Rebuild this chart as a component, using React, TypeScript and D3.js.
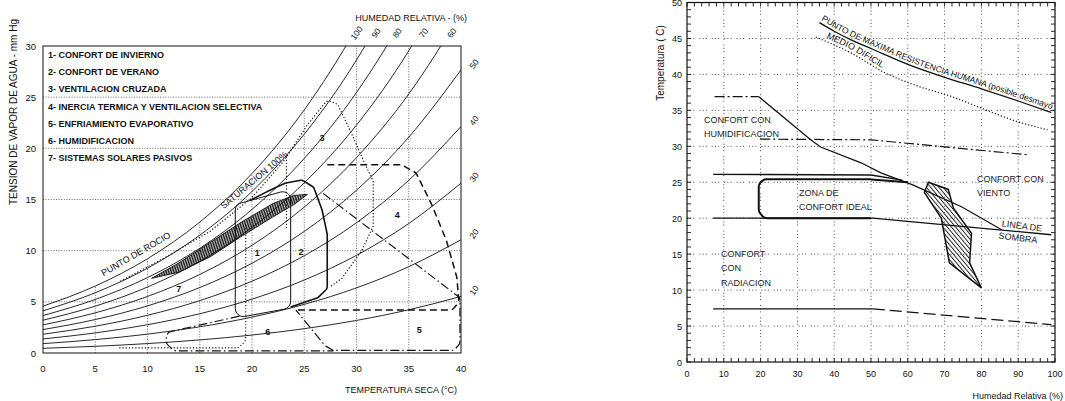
import React from "react";
import * as d3 from "d3";

// ---------- left chart: psychrometric (Givoni) ----------
const satTemps = [0, 5, 10, 15, 20, 25, 30, 35, 40];
const satPressure = [4.58, 6.54, 9.21, 12.79, 17.54, 23.76, 31.82, 42.18, 55.32];
const rhLevels = [100, 90, 80, 70, 60, 50, 40, 30, 20, 10];
const rhTopLabels = [100, 90, 80, 70, 60];
const rhSideLabels = [50, 40, 30, 20, 10];
const tempTicks = [0, 5, 10, 15, 20, 25, 30, 35, 40];
const vaporTicks = [0, 5, 10, 15, 20, 25, 30];
const legendItems = [
  "1- CONFORT DE INVIERNO",
  "2- CONFORT DE VERANO",
  "3- VENTILACION CRUZADA",
  "4- INERCIA TERMICA Y VENTILACION SELECTIVA",
  "5- ENFRIAMIENTO EVAPORATIVO",
  "6- HUMIDIFICACION",
  "7- SISTEMAS SOLARES PASIVOS",
];

// zone outlines, [temp C, vapour mmHg]
const zoneWinter = [[18.4, 14.5], [23.7, 16.0], [23.7, 4.4], [18.4, 3.4]];
const zoneSummer = [[19.8, 14.9], [21.5, 15.8], [23.2, 16.6], [24.8, 16.9], [25.9, 16.2], [26.7, 14.0], [27.2, 11.6], [27.2, 6.3], [26.3, 5.4], [23.7, 4.5]];
const zoneCrossVent = [[7.4, 7.0], [12, 9.5], [16, 11.9], [20, 15.2], [23, 18.7], [25.3, 22.3], [27.2, 24.7], [28.2, 24.3], [29.5, 21.5], [30.8, 18.5], [31.6, 16.8], [31.6, 12.4], [30.5, 10], [28.6, 7.3], [27.4, 6.4]];
const crossVentInner = [[23.3, 19.2], [23.3, 12.2]];
const zoneInertia = [[27.2, 18.4], [34.3, 18.4], [35.7, 17.6], [37.2, 14.5], [38.6, 11.0], [39.6, 7.4], [39.8, 5.0], [39.2, 4.2], [24.2, 4.2]];
const zoneEvap = [[26.8, 15.6], [39.9, 5.4], [39.9, 0.9], [39.3, 0.25], [27.8, 0.25], [27.0, 0.7], [24.2, 4.2]];
const zoneHumid = [[18.8, 3.6], [11.8, 2.0], [11.8, 0.9], [12.6, 0.2], [27.8, 0.2]];
const zoneSolar = [[7.3, 0.5], [18.7, 0.5], [19.4, 1.2], [19.4, 12.6]];
const hatchBand = [[10.4, 7.3], [13, 8.8], [16, 10.8], [19, 12.8], [22, 14.6], [24, 15.4], [25.3, 15.5], [24, 14.5], [22, 13.3], [19, 11.4], [16, 9.4], [13, 7.9]];
const zoneLabels: [string, number, number][] = [["1", 20.5, 9.8], ["2", 24.7, 9.9], ["3", 26.7, 21], ["4", 33.9, 13.5], ["5", 36, 2.2], ["6", 21.5, 2.1], ["7", 13, 6.3]];

// ---------- right chart: bioclimatic (Olgyay) ----------
const rhTicksR = [0, 10, 20, 30, 40, 50, 60, 70, 80, 90, 100];
const tempTicksR = [0, 5, 10, 15, 20, 25, 30, 35, 40, 45, 50];
const maxResistRH = [36, 40, 45, 50, 60, 70, 80, 90, 99];
const maxResistT = [47.2, 46.0, 44.7, 43.6, 41.4, 39.6, 38.0, 36.3, 34.7];
const difficultRH = [35, 44.5, 53.5, 62, 72, 81, 90, 98];
const difficultT = [45.2, 43.0, 40.3, 38.5, 36.9, 35.1, 33.4, 32.3];
const humidTopRH = [7.5, 19.5];
const humidTopT = [36.9, 36.9];
const windRH = [19.5, 33.6, 36.3, 47.3, 52.7, 61.5, 74.6, 85.5];
const windT = [36.9, 30.9, 29.9, 27.7, 26.3, 24.6, 21.6, 18.4];
const line31RH = [19.9, 50, 93];
const line31T = [31, 30.9, 28.8];
const upperRH = [7.1, 50, 58.5];
const upperT = [26.1, 26.0, 25.3];
const idealRH = [60, 50, 21, 19.5, 19.5, 21, 50];
const idealT = [25.0, 25.4, 25.4, 24.8, 20.9, 20.0, 20.0];
const shadeRH = [7.1, 50.5, 99];
const shadeT = [20.0, 20.0, 17.7];
const lowSolidRH = [7.1, 50.5];
const lowSolidT = [7.4, 7.4];
const lowDashRH = [50.5, 99];
const lowDashT = [7.4, 5.2];
const hatchRH = [65.6, 71.0, 72.4, 77.3, 76.8, 80.0, 71.3, 69.1, 64.5];
const hatchT = [25.0, 24.0, 21.4, 17.9, 13.8, 10.3, 13.8, 20.0, 23.6];

const FONT = "'Liberation Sans', Arial, Helvetica, sans-serif";
const INK = "#111";

function roundedPath(pts: number[][], r: number, closed: boolean): string {
  const path = d3.path();
  const n = pts.length;
  const corner = (a: number[], c: number[], d: number[]) => {
    const ux = a[0] - c[0], uy = a[1] - c[1], vx = d[0] - c[0], vy = d[1] - c[1];
    const lu = Math.hypot(ux, uy), lv = Math.hypot(vx, vy);
    const cos = Math.max(-1, Math.min(1, (ux * vx + uy * vy) / (lu * lv)));
    const th = Math.acos(cos);
    const rr = Math.min(r, 0.5 * Math.min(lu, lv) * Math.tan(th / 2));
    if (!(rr > 0.01) || th > Math.PI - 0.01) path.lineTo(c[0], c[1]);
    else path.arcTo(c[0], c[1], d[0], d[1], rr);
  };
  if (closed) {
    const a = pts[n - 1], b = pts[0];
    const mid = [(a[0] + b[0]) / 2, (a[1] + b[1]) / 2];
    path.moveTo(mid[0], mid[1]);
    for (let i = 0; i < n; i++) {
      const prev = i === 0 ? mid : pts[i - 1];
      corner(prev, pts[i], pts[(i + 1) % n]);
    }
    path.closePath();
  } else {
    path.moveTo(pts[0][0], pts[0][1]);
    for (let i = 1; i < n - 1; i++) corner(pts[i - 1], pts[i], pts[i + 1]);
    path.lineTo(pts[n - 1][0], pts[n - 1][1]);
  }
  return path.toString();
}

function LeftChart() {
  const x = d3.scaleLinear().domain([0, 40]).range([43, 461]);
  const y = d3.scaleLinear().domain([0, 30]).range([353, 46]);
  const psatAt = d3.scaleLinear().domain(satTemps).range(satPressure);
  const tempAtPsat = d3.scaleLinear().domain(satPressure).range(satTemps);
  const curve = d3.line<number[]>().x(d => x(d[0])).y(d => y(d[1])).curve(d3.curveMonotoneX);
  const toPx = (pts: number[][]) => pts.map(d => [x(d[0]), y(d[1])]);
  const poly = d3.line<number[]>().x(d => x(d[0])).y(d => y(d[1]));

  return (
    <g fontFamily={FONT} fill={INK}>
      <defs>
        <clipPath id="clipL">
          <rect x={x(0)} y={y(30)} width={x(40) - x(0)} height={y(0) - y(30)} />
        </clipPath>
        <pattern id="hatchL" width="1.6" height="4" patternUnits="userSpaceOnUse" patternTransform="rotate(12)">
          <line x1="0.5" y1="0" x2="0.5" y2="4" stroke={INK} strokeWidth="1.1" />
        </pattern>
      </defs>

      {/* grid */}
      <g stroke="#444" strokeWidth={0.8} strokeDasharray="1,1.6" fill="none">
        {vaporTicks.slice(1, -1).map(p => (
          <line key={"h" + p} x1={x(0)} x2={x(40)} y1={y(p)} y2={y(p)} />
        ))}
        {tempTicks.slice(1, -1).map(t => (
          <line key={"v" + t} x1={x(t)} x2={x(t)} y1={y(0)} y2={y(Math.min(30, psatAt(t)))} />
        ))}
      </g>

      {/* relative humidity curves */}
      <g clipPath="url(#clipL)" fill="none" stroke={INK} strokeWidth={0.9}>
        {rhLevels.map(rh => (
          <path key={rh} d={curve(satTemps.map((t, i) => [t, (satPressure[i] * rh) / 100])) || ""} />
        ))}
      </g>

      {/* zones */}
      <g fill="none" stroke={INK}>
        <path d={poly(hatchBand) + "Z"} fill="url(#hatchL)" strokeWidth={0.9} />
        <path d={roundedPath(toPx(zoneWinter), 8, true)} strokeWidth={1} />
        <path d={roundedPath(toPx(zoneSummer), 4, false)} strokeWidth={1.6} />
        <path d={roundedPath(toPx(zoneCrossVent), 4, false)} strokeWidth={1.2} strokeDasharray="1.2,2" />
        <path d={poly(crossVentInner) || ""} strokeWidth={1.1} strokeDasharray="1.2,2" />
        <path d={roundedPath(toPx(zoneInertia), 6, false)} strokeWidth={1.5} strokeDasharray="7,4" />
        <path d={roundedPath(toPx(zoneEvap), 6, false)} strokeWidth={1.2} strokeDasharray="9,3,1.5,3" />
        <path d={roundedPath(toPx(zoneHumid), 6, false)} strokeWidth={1.2} strokeDasharray="9,3,1.5,3" />
        <path d={roundedPath(toPx(zoneSolar), 6, false)} strokeWidth={1.1} strokeDasharray="1.2,2" />
      </g>

      {/* frame */}
      <rect x={x(0)} y={y(30)} width={x(40) - x(0)} height={y(0) - y(30)} fill="none" stroke={INK} strokeWidth={1} />

      {zoneLabels.map(([s, t, p]) => (
        <text key={s} x={x(t)} y={y(p) + 3} fontSize={9} fontWeight="bold" textAnchor="middle">{s}</text>
      ))}

      {/* legend */}
      {legendItems.map((s, i) => (
        <text key={s} x={48} y={58 + i * 17.2} fontSize={9} fontWeight="bold">{s}</text>
      ))}

      {/* ticks */}
      {tempTicks.map(t => (
        <text key={t} x={x(t)} y={372} fontSize={9.5} textAnchor="middle">{t}</text>
      ))}
      {vaporTicks.map(p => (
        <text key={p} x={36} y={y(p) + 3.5} fontSize={9.5} textAnchor="end">{p}</text>
      ))}
      {rhTopLabels.map(rh => (
        <text key={rh} transform={`translate(${x(tempAtPsat((30 * 100) / rh)) + 12},33) rotate(-55)`} fontSize={8.5} textAnchor="middle" y={3}>{rh}</text>
      ))}
      {rhSideLabels.map(rh => (
        <text key={rh} transform={`translate(474,${y((satPressure[satPressure.length - 1] * rh) / 100) - 6}) rotate(-55)`} fontSize={8.5} textAnchor="middle" y={3}>{rh}</text>
      ))}

      <text transform="translate(254,180) rotate(-40)" y={3} fontSize={9} textAnchor="middle">SATURACION 100%</text>
      <text transform="translate(136,254) rotate(-30)" y={3} fontSize={9} textAnchor="middle">PUNTO DE ROCIO</text>

      <text transform="translate(13,112) rotate(-90)" y={4} fontSize={10} textAnchor="middle">TENSION DE VAPOR DE AGUA - mm Hg</text>
      <text x={457} y={393} fontSize={9} textAnchor="end">TEMPERATURA SECA  (°C)</text>
      <text x={467} y={21} fontSize={9} textAnchor="end">HUMEDAD RELATIVA - (%)</text>
    </g>
  );
}

function RightChart() {
  const x = d3.scaleLinear().domain([0, 100]).range([687, 1055]);
  const y = d3.scaleLinear().domain([0, 50]).range([362, 2.5]);
  const pts = (rh: number[], t: number[]) => rh.map((r, i) => [x(r), y(t[i])]);
  const lin = d3.line<number[]>();
  const smooth = d3.line<number[]>().curve(d3.curveMonotoneX);
  const minorT = d3.range(0, 51, 1);
  const minorRH = d3.range(0, 101, 2);

  return (
    <g fontFamily={FONT} fill={INK}>
      <defs>
        <pattern id="hatchR" width="3.2" height="4" patternUnits="userSpaceOnUse" patternTransform="rotate(-40)">
          <line x1="0.5" y1="0" x2="0.5" y2="4" stroke={INK} strokeWidth="0.9" />
        </pattern>
        <path id="pathMax" d={smooth(pts(maxResistRH, maxResistT)) || ""} />
        <path id="pathMed" d={smooth(pts(difficultRH, difficultT)) || ""} />
      </defs>

      {/* grid */}
      <g stroke="#333" strokeWidth={0.9} strokeDasharray="1,2.2,1,2.2,1,5" fill="none">
        {rhTicksR.slice(1, -1).map(r => (
          <line key={"v" + r} x1={x(r)} x2={x(r)} y1={y(0)} y2={y(50)} />
        ))}
        {tempTicksR.slice(1, -1).map(t => (
          <line key={"h" + t} x1={x(0)} x2={x(100)} y1={y(t)} y2={y(t)} />
        ))}
      </g>

      {/* frame + minor ticks */}
      <rect x={x(0)} y={y(50)} width={x(100) - x(0)} height={y(0) - y(50)} fill="none" stroke={INK} strokeWidth={1.2} />
      <g stroke={INK} strokeWidth={0.9}>
        {minorT.map(t => (
          <line key={"l" + t} x1={x(0)} x2={x(0) + 4} y1={y(t)} y2={y(t)} />
        ))}
        {minorT.map(t => (
          <line key={"r" + t} x1={x(100)} x2={x(100) - 4} y1={y(t)} y2={y(t)} />
        ))}
        {minorRH.map(r => (
          <line key={"b" + r} x1={x(r)} x2={x(r)} y1={y(0)} y2={y(0) - 4} />
        ))}
        {minorRH.map(r => (
          <line key={"t" + r} x1={x(r)} x2={x(r)} y1={y(50)} y2={y(50) + 4} />
        ))}
      </g>

      {/* curves */}
      <g fill="none" stroke={INK}>
        <path d={smooth(pts(maxResistRH, maxResistT)) || ""} strokeWidth={1.3} />
        <path d={smooth(pts(difficultRH, difficultT)) || ""} strokeWidth={1.2} strokeDasharray="1.2,2" />
        <path d={lin(pts(humidTopRH, humidTopT)) || ""} strokeWidth={1.3} strokeDasharray="10,3,2,3" />
        <path d={lin(pts(windRH, windT)) || ""} strokeWidth={1.2} />
        <path d={lin(pts(line31RH, line31T)) || ""} strokeWidth={1.2} strokeDasharray="10,3,2,3" />
        <path d={lin(pts(upperRH, upperT)) || ""} strokeWidth={1.4} />
        <path d={roundedPath(pts(idealRH, idealT), 6, false)} strokeWidth={2} />
        <path d={lin(pts(shadeRH, shadeT)) || ""} strokeWidth={1.3} />
        <path d={lin(pts(lowSolidRH, lowSolidT)) || ""} strokeWidth={1.3} />
        <path d={lin(pts(lowDashRH, lowDashT)) || ""} strokeWidth={1.3} strokeDasharray="12,5" />
        <path d={(lin(pts(hatchRH, hatchT)) || "") + "Z"} fill="url(#hatchR)" strokeWidth={1.5} />
      </g>

      {/* curve labels */}
      <text fontSize={8.6} dy={-3}>
        <textPath href="#pathMax">PUNTO DE MAXIMA RESISTENCIA HUMANA (posible desmayo)</textPath>
      </text>
      <text fontSize={9} dy={-3}>
        <textPath href="#pathMed" startOffset={10}>MEDIO  DIFICIL</textPath>
      </text>

      <g fontSize={9} fill="#222">
        <text x={704} y={123}>CONFORT CON</text>
        <text x={704} y={137}>HUMIDIFICACION</text>
        <text x={799} y={196}>ZONA  DE</text>
        <text x={799} y={210}>CONFORT IDEAL</text>
        <text x={977} y={182}>CONFORT CON</text>
        <text x={977} y={196}>VIENTO</text>
        <text transform="translate(1022,226) rotate(7)" y={3} textAnchor="middle">LINEA DE</text>
        <text transform="translate(1018,238) rotate(7)" y={3} textAnchor="middle">SOMBRA</text>
        <text x={721} y={257}>CONFORT</text>
        <text x={721} y={271}>CON</text>
        <text x={721} y={286}>RADIACION</text>
      </g>

      {/* axes labels */}
      {rhTicksR.map(r => (
        <text key={r} x={x(r)} y={377} fontSize={9} textAnchor="middle">{r}</text>
      ))}
      {tempTicksR.map(t => (
        <text key={t} x={682} y={y(t) + 3.5} fontSize={9} textAnchor="end">{t}</text>
      ))}
      <text transform="translate(660,63) rotate(-90)" y={4} fontSize={10} textAnchor="middle">Temperatura ( C)</text>
      <text x={1063} y={399} fontSize={9} textAnchor="end">Humedad Relativa  (%)</text>
    </g>
  );
}

export default function App() {
  return (
    <svg
      width={1065}
      height={401}
      viewBox="0 0 1065 401"
      style={{ position: "absolute", left: 0, top: 0, background: "#fff" }}
    >
      <rect width={1065} height={401} fill="#fff" />
      <LeftChart />
      <RightChart />
    </svg>
  );
}
